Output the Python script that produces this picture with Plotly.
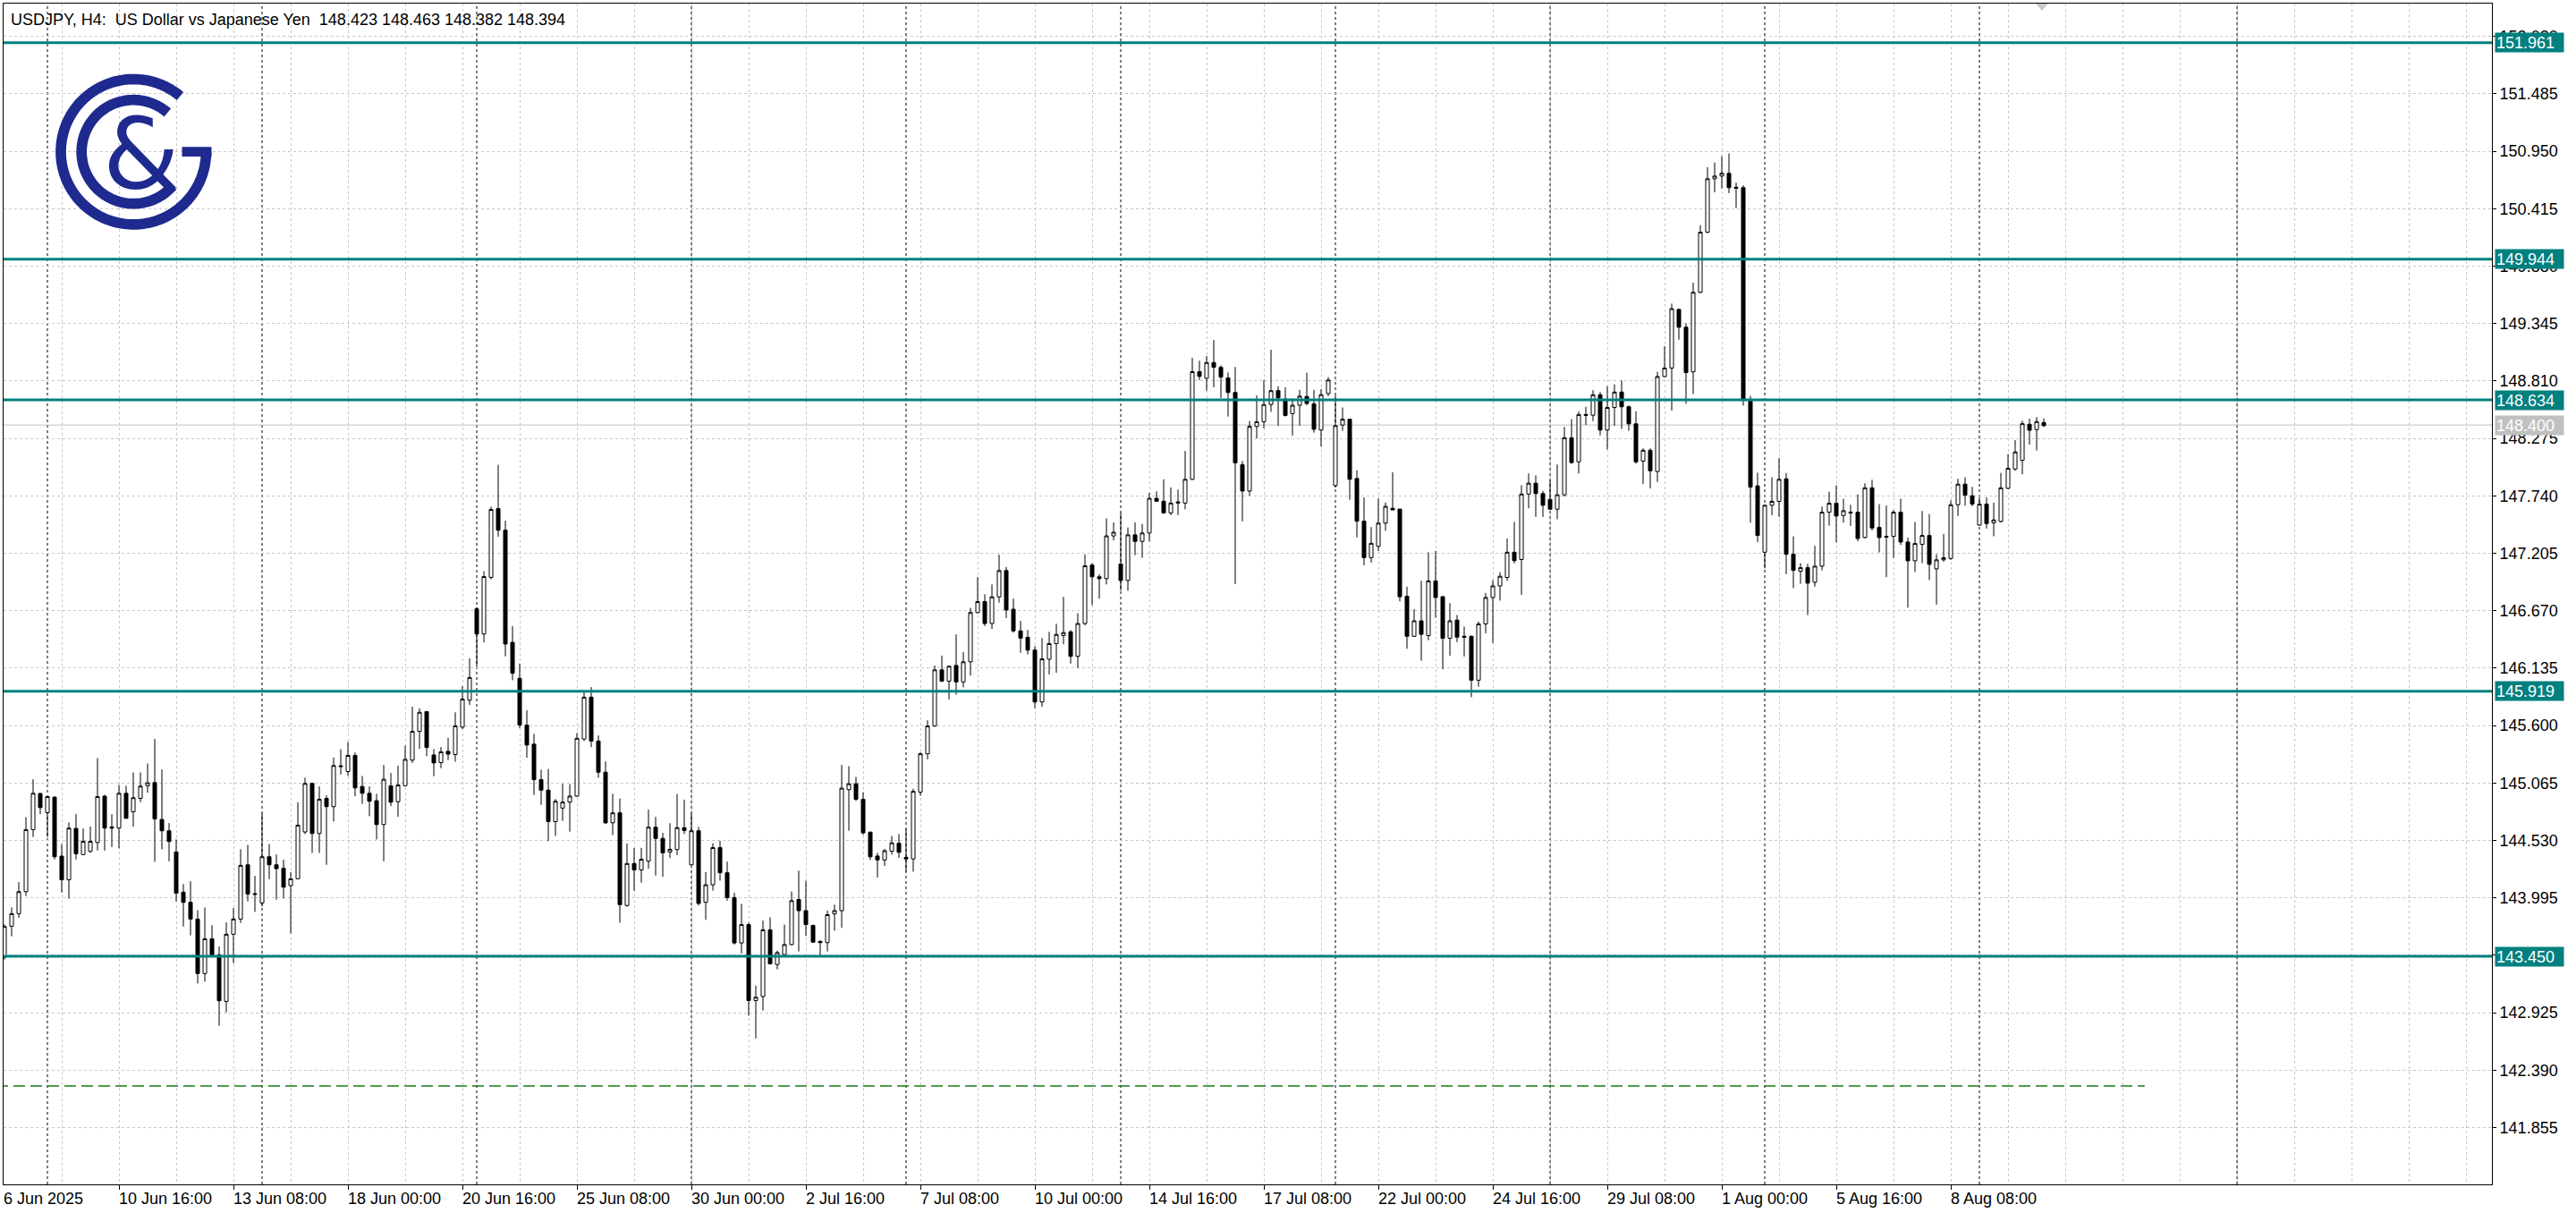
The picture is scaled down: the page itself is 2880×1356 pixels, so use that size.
import math
import plotly.graph_objects as go

# ---------------- data ----------------
candle_open = [
143.442,143.731,143.848,144.053,144.631,144.967,144.789,144.933,144.384,144.164,
144.642,144.398,144.428,144.511,144.942,144.656,144.645,144.969,144.797,144.922,
145.039,145.069,144.725,144.620,144.423,144.048,143.953,143.798,143.290,143.614,
143.465,143.031,143.656,143.798,144.303,144.034,143.948,144.378,144.303,144.270,
144.109,144.173,144.609,145.061,144.595,144.922,144.845,145.225,145.172,145.322,
145.033,144.969,144.900,144.678,145.039,144.891,145.040,145.278,145.546,145.731,
145.326,145.255,145.360,145.330,145.586,145.836,146.687,146.453,146.981,147.621,
147.420,146.375,146.040,145.605,145.427,145.096,144.999,144.705,144.832,144.887,
144.943,145.475,145.865,145.456,145.166,144.694,144.787,143.924,144.315,144.255,
144.337,144.653,144.549,144.422,144.445,144.649,144.303,144.620,143.954,144.117,
144.463,144.229,143.998,143.575,143.746,143.039,143.076,143.697,143.374,143.467,
143.560,143.980,143.876,143.738,143.590,143.578,143.846,143.876,145.003,145.058,
144.913,144.608,144.385,144.348,144.430,144.504,144.372,144.358,144.980,145.337,
145.596,146.119,146.014,146.160,146.007,146.194,146.653,146.755,146.551,146.799,
147.044,146.684,146.483,146.422,146.303,145.820,146.218,146.364,146.439,146.473,
146.245,146.551,147.095,146.986,146.969,147.367,147.105,146.952,147.377,147.316,
147.394,147.717,147.690,147.581,147.673,147.673,147.894,148.897,148.836,148.982,
148.938,148.839,148.703,148.030,147.785,148.387,148.431,148.591,148.720,148.642,
148.506,148.584,148.666,148.598,148.353,148.693,147.836,148.400,148.454,147.902,
147.504,147.165,147.270,147.486,147.624,147.617,146.804,146.432,146.576,146.439,
146.948,146.800,146.413,146.583,146.432,146.432,146.023,146.547,146.793,146.901,
146.980,147.215,147.147,147.757,147.858,147.761,147.707,147.616,147.750,148.281,
148.057,148.498,148.491,148.682,148.353,148.563,148.707,148.570,148.411,148.064,
148.165,147.967,148.852,148.931,149.477,149.311,148.895,149.636,150.196,150.694,
150.719,150.745,150.615,150.611,148.624,147.833,147.215,147.652,147.689,147.899,
147.196,147.038,147.071,146.935,147.085,147.588,147.671,147.557,147.588,147.588,
147.352,147.815,147.446,147.363,147.363,147.588,147.310,147.135,147.288,147.371,
147.060,147.144,147.157,147.657,147.849,147.741,147.468,147.663,147.488,147.502,
147.810,147.990,148.071,148.407,148.357,148.423]

candle_high = [
143.748,143.906,144.142,144.747,145.100,144.975,144.942,144.942,144.497,144.697,
144.775,144.642,144.659,145.297,144.956,144.775,145.047,145.039,145.164,145.164,
145.247,145.475,145.192,144.692,144.539,144.123,144.150,143.881,143.906,143.740,
143.542,143.767,143.901,144.448,144.489,144.200,144.781,144.497,144.400,144.350,
144.234,144.886,145.114,145.067,145.033,144.950,145.303,145.380,145.447,145.350,
145.131,145.033,144.964,145.233,145.158,145.226,145.412,145.776,145.761,145.731,
145.382,145.400,145.486,145.724,145.966,146.226,146.702,147.037,147.639,148.030,
147.509,146.527,146.178,145.743,145.523,145.189,145.196,144.917,145.058,145.055,
145.531,145.921,145.958,145.508,145.267,144.965,144.921,144.501,144.460,144.460,
144.817,144.750,144.601,144.690,144.962,144.910,144.779,144.657,144.236,144.504,
144.526,144.333,144.043,143.939,143.764,143.177,143.783,143.813,143.504,143.746,
144.054,144.248,144.155,143.746,143.597,143.876,143.932,145.233,145.222,145.122,
144.980,144.608,144.415,144.452,144.571,144.589,144.637,145.011,145.351,145.650,
146.160,146.252,146.160,146.449,146.286,146.697,146.983,146.823,146.915,147.194,
147.078,146.782,146.575,146.490,146.340,146.415,146.473,146.548,146.799,146.490,
146.646,147.194,147.112,147.010,147.530,147.493,147.581,147.445,147.493,147.479,
147.768,147.782,147.894,147.819,147.799,148.159,149.026,148.999,149.043,149.193,
148.955,148.890,148.941,148.064,148.438,148.676,148.819,149.101,148.761,148.751,
148.649,148.727,148.887,148.727,148.734,148.846,148.676,148.563,148.454,147.978,
147.725,147.450,147.714,147.678,147.960,147.617,146.894,146.685,146.948,147.215,
147.226,146.811,146.739,146.630,146.522,146.439,146.569,146.836,146.955,147.028,
147.342,147.497,147.840,147.949,147.931,147.786,147.884,148.032,148.382,148.454,
148.527,148.570,148.725,148.707,148.761,148.779,148.816,148.581,148.527,148.183,
148.183,148.895,149.134,149.531,149.484,149.347,149.726,150.261,150.802,150.846,
150.904,150.929,150.658,150.633,148.671,147.956,147.660,147.913,148.093,147.954,
147.363,147.113,147.107,147.274,147.641,147.779,147.838,147.713,147.657,147.754,
147.857,147.890,147.663,147.649,147.607,147.713,147.352,147.496,147.599,147.571,
147.196,147.385,147.699,147.899,147.913,147.824,147.724,147.727,147.677,147.954,
148.129,148.260,148.440,148.460,148.474,148.463]

candle_low = [
143.420,143.637,143.809,144.012,144.561,144.775,144.561,144.353,144.045,143.989,
144.353,144.395,144.414,144.436,144.436,144.470,144.456,144.733,144.659,144.886,
144.975,144.331,144.448,144.336,143.962,143.728,143.645,143.198,143.215,143.442,
142.804,142.929,143.387,143.762,143.962,143.864,143.914,144.170,143.978,143.989,
143.665,144.170,144.589,144.414,144.414,144.303,144.706,145.144,145.131,144.942,
144.870,144.756,144.539,144.336,144.850,144.750,145.032,145.252,145.382,145.315,
145.129,145.203,145.278,145.263,145.568,145.791,146.152,146.375,146.962,147.360,
146.245,146.022,145.575,145.300,144.954,144.861,144.523,144.571,144.712,144.612,
144.936,145.456,145.400,145.114,144.683,144.579,143.764,143.913,144.062,144.136,
144.266,144.203,144.192,144.367,144.393,144.590,144.303,143.924,143.790,144.062,
144.155,143.969,143.560,143.478,142.898,142.686,142.946,143.374,143.329,143.456,
143.552,143.496,143.641,143.582,143.456,143.496,143.690,143.716,144.620,144.898,
144.582,144.348,144.184,144.292,144.396,144.368,144.239,144.239,144.946,145.286,
145.589,146.007,145.844,145.888,145.956,146.065,146.646,146.527,146.500,146.745,
146.602,146.466,146.279,146.262,145.762,145.776,146.075,146.092,146.357,146.177,
146.136,146.534,146.721,146.782,146.915,147.326,146.857,146.857,147.187,147.163,
147.316,147.683,147.574,147.561,147.561,147.615,147.887,148.819,148.720,148.751,
148.652,148.479,146.918,147.503,147.741,148.275,148.370,148.523,148.394,148.479,
148.302,148.394,148.584,148.329,148.200,148.669,147.816,148.346,147.703,147.353,
147.093,147.118,147.226,147.414,147.609,146.757,146.316,146.425,146.204,146.396,
146.605,146.124,146.251,146.377,146.244,145.864,145.962,146.460,146.370,146.764,
146.948,147.111,146.818,147.624,147.544,147.544,147.616,147.522,147.732,148.039,
147.949,148.400,148.436,148.303,148.173,148.393,148.364,148.346,148.039,147.851,
147.811,147.869,148.845,148.534,149.195,148.599,148.689,149.628,150.188,150.568,
150.604,150.560,150.423,148.581,147.490,147.309,147.064,147.559,147.544,147.010,
146.880,146.921,146.630,146.894,147.046,147.463,147.307,147.491,147.460,147.316,
147.343,147.418,147.213,146.983,147.163,147.282,146.699,147.030,147.113,146.955,
146.727,147.127,147.144,147.552,147.649,147.643,147.460,147.435,147.363,147.491,
147.802,147.974,147.940,148.218,148.163,148.382]

candle_close = [
143.728,143.848,144.053,144.631,144.969,144.836,144.939,144.378,144.164,144.645,
144.406,144.522,144.522,144.939,144.645,144.645,144.969,144.736,144.928,145.036,
145.067,144.731,144.620,144.520,144.039,143.953,143.798,143.290,143.614,143.465,
143.037,143.656,143.798,144.298,144.031,144.028,144.378,144.303,144.267,144.095,
144.173,144.672,145.061,144.595,144.914,144.845,145.228,145.219,145.322,145.019,
144.969,144.895,144.678,145.100,144.886,145.047,145.285,145.546,145.724,145.397,
145.252,145.356,145.334,145.598,145.847,146.048,146.453,146.988,147.613,147.420,
146.360,146.088,145.605,145.419,145.096,144.999,144.705,144.895,144.887,144.943,
145.482,145.865,145.456,145.166,144.694,144.787,143.932,144.315,144.255,144.355,
144.653,144.549,144.415,144.448,144.649,144.623,144.620,143.943,144.117,144.463,
144.229,143.998,143.575,143.746,143.039,143.069,143.697,143.381,143.485,143.560,
143.969,143.876,143.746,143.582,143.578,143.839,143.876,145.017,145.058,144.913,
144.601,144.378,144.348,144.434,144.508,144.419,144.358,144.987,145.337,145.596,
146.119,146.014,146.153,146.007,146.194,146.653,146.755,146.551,146.799,147.044,
146.677,146.483,146.415,146.303,145.820,146.221,146.364,146.449,146.466,146.245,
146.551,147.088,146.986,146.969,147.367,147.401,146.952,147.377,147.316,147.394,
147.717,147.690,147.581,147.673,147.683,147.894,148.897,148.853,148.982,148.938,
148.846,148.703,148.047,147.785,148.387,148.431,148.591,148.720,148.652,148.489,
148.584,148.669,148.601,148.360,148.683,148.819,148.394,148.454,147.894,147.504,
147.165,147.298,147.486,147.642,147.609,146.800,146.432,146.576,146.450,146.948,
146.793,146.413,146.576,146.424,146.424,146.023,146.547,146.793,146.901,146.991,
147.215,147.136,147.757,147.858,147.761,147.652,147.616,147.750,148.281,148.050,
148.498,148.491,148.682,148.353,148.563,148.707,148.570,148.411,148.057,148.165,
147.974,148.852,148.931,149.484,149.311,148.888,149.636,150.196,150.694,150.719,
150.745,150.611,150.607,148.642,147.822,147.371,147.652,147.689,147.894,147.196,
147.046,147.071,146.927,147.085,147.588,147.671,147.552,147.602,147.580,147.343,
147.815,147.441,147.352,147.355,147.588,147.310,147.135,147.296,147.371,147.102,
147.144,147.163,147.657,147.849,147.746,147.663,147.663,147.482,147.516,147.815,
147.996,148.149,148.412,148.351,148.432,148.394]

bar_index = list(range(len(candle_open)))

level_prices = [151.961, 149.944, 148.634, 145.919, 143.450]
level_labels = ["151.961", "149.944", "148.634", "145.919", "143.450"]
bid_price = 148.400
bid_label = "148.400"
dashed_level = 142.243
dashed_level_end_bar = 299.1

price_tick_labels = ["141.855", "142.390", "142.925", "143.460", "143.995", "144.530",
                     "145.065", "145.600", "146.135", "146.670", "147.205", "147.740",
                     "148.275", "148.810", "149.345", "149.880", "150.415", "150.950",
                     "151.485", "152.020"]
price_tick_values = [float(s) for s in price_tick_labels]

first_time_label = "6 Jun 2025"
time_labels = ["10 Jun 16:00", "13 Jun 08:00", "18 Jun 00:00", "20 Jun 16:00",
               "25 Jun 08:00", "30 Jun 00:00", "2 Jul 16:00", "7 Jul 08:00",
               "10 Jul 00:00", "14 Jul 16:00", "17 Jul 08:00", "22 Jul 00:00",
               "24 Jul 16:00", "29 Jul 08:00", "1 Aug 00:00", "5 Aug 16:00",
               "8 Aug 08:00"]
time_label_bars = [16, 32, 48, 64, 80, 96, 112, 128, 144, 160, 176, 192, 208, 224, 240, 256, 272]
week_separator_bars = [6, 36, 66, 96, 126, 156, 186, 216, 246, 276, 312]

title_text = ("USDJPY, H4:\u00a0\u00a0US Dollar vs Japanese Yen\u00a0\u00a0"
              "148.423 148.463 148.382 148.394")

# ---------------- layout constants ----------------
W, H = 2880, 1356
ML, MR, MT, MB = 4, 94, 4, 32
PW, PH = W - ML - MR, H - MT - MB
X_RANGE = [-0.125, 347.625]
Y_RANGE = [141.326, 152.326]

FONT = "Liberation Sans, Arial, sans-serif"
TEAL = "#008080"
NAVY = "#1e2a8e"
GRID = "#c8c8c8"


def to_paper(X, Y):
    return (X - ML) / PW, (H - MB - Y) / PH


def arc_path(cx, cy, r, a0, a1, step=2.0):
    pts = []
    n = int(abs(a1 - a0) / step) + 1
    for k in range(n + 1):
        a = math.radians(a0 + (a1 - a0) * k / n)
        pts.append(to_paper(cx + r * math.cos(a), cy - r * math.sin(a)))
    return "M " + " L ".join(f"{x:.6f},{y:.6f}" for x, y in pts)


fig = go.Figure()

fig.add_trace(go.Candlestick(
    x=bar_index, open=candle_open, high=candle_high, low=candle_low, close=candle_close,
    increasing=dict(fillcolor="white", line=dict(color="black", width=1)),
    decreasing=dict(fillcolor="black", line=dict(color="black", width=1)),
    whiskerwidth=0, hoverinfo="skip", showlegend=False,
))

# dashed horizontal trend line
fig.add_trace(go.Scatter(
    x=[X_RANGE[0] - 1, dashed_level_end_bar], y=[dashed_level, dashed_level],
    mode="lines", line=dict(color="#1a7a1a", width=1.5, dash="13px,6px"),
    hoverinfo="skip", showlegend=False, cliponaxis=True,
))

shapes = []
# weekly separators
for b in week_separator_bars:
    shapes.append(dict(type="line", xref="x", yref="paper", x0=b, x1=b, y0=0, y1=1,
                       line=dict(color="black", width=1, dash="3px,3px"), layer="below"))
# bid line
shapes.append(dict(type="line", xref="paper", yref="y", x0=0, x1=1, y0=bid_price, y1=bid_price,
                   line=dict(color="#c0c0c0", width=1), layer="below"))
# levels
for p in level_prices:
    shapes.append(dict(type="line", xref="paper", yref="y", x0=0, x1=1, y0=p, y1=p,
                       line=dict(color=TEAL, width=3), layer="above"))

# logo
LCX, LCY = 149.2, 169.7
shapes.append(dict(type="path", xref="paper", yref="paper", layer="above",
                   path=arc_path(LCX, LCY, 81.2, 50, 360),
                   line=dict(color=NAVY, width=11.7)))
bx0, by0 = to_paper(203.5, LCY)
bx1, by1 = to_paper(236.5, LCY)
shapes.append(dict(type="line", xref="paper", yref="paper", x0=bx0, y0=by0, x1=bx1, y1=by1,
                   line=dict(color=NAVY, width=10.8), layer="above"))
shapes.append(dict(type="path", xref="paper", yref="paper", layer="above",
                   path=arc_path(LCX, LCY, 58.0, 49, 319),
                   line=dict(color=NAVY, width=11.7)))

# chart shift marker
t1 = to_paper(2276, 4)
t2 = to_paper(2290, 4)
t3 = to_paper(2283, 12)
shapes.append(dict(type="path", xref="paper", yref="paper", layer="above",
                   path=f"M {t1[0]},{t1[1]} L {t2[0]},{t2[1]} L {t3[0]},{t3[1]} Z",
                   fillcolor="#c8c8c8", line=dict(width=0)))

annotations = []
# title
annotations.append(dict(text=title_text, xref="paper", yref="paper", x=0, y=1,
                        xanchor="left", yanchor="top", xshift=6, yshift=-6, showarrow=False,
                        font=dict(family=FONT, size=18, color="black")))
# ampersand of logo
ax, ay = to_paper(158, 172)
annotations.append(dict(text="&", xref="paper", yref="paper", x=ax, y=ay,
                        xanchor="center", yanchor="middle", showarrow=False,
                        font=dict(family="DejaVu Sans, sans-serif", size=110, color=NAVY)))
# time labels
annotations.append(dict(text=first_time_label, xref="x", yref="paper", x=X_RANGE[0], y=0,
                        xanchor="left", yanchor="top", yshift=-4, xshift=-2, showarrow=False,
                        font=dict(family=FONT, size=18, color="black")))
for b, t in zip(time_label_bars, time_labels):
    annotations.append(dict(text=t, xref="x", yref="paper", x=b, y=0,
                            xanchor="left", yanchor="top", yshift=-4, xshift=-2, showarrow=False,
                            font=dict(family=FONT, size=18, color="black")))
# level boxes
for p, s in zip(level_prices, level_labels):
    annotations.append(dict(text=s, xref="paper", yref="y", x=1, y=p,
                            xanchor="left", yanchor="middle", xshift=3, showarrow=False,
                            bgcolor=TEAL, width=74, height=19, align="left", borderpad=1,
                            font=dict(family=FONT, size=18, color="white")))
annotations.append(dict(text=bid_label, xref="paper", yref="y", x=1, y=bid_price,
                        xanchor="left", yanchor="middle", xshift=3, showarrow=False,
                        bgcolor="#c0c0c0", width=74, height=19, align="left", borderpad=1,
                        font=dict(family=FONT, size=18, color="white")))

fig.update_layout(
    width=W, height=H, margin=dict(l=ML, r=MR, t=MT, b=MB, pad=0),
    paper_bgcolor="white", plot_bgcolor="white",
    boxgap=0.5, boxgroupgap=0,
    shapes=shapes, annotations=annotations, showlegend=False,
    font=dict(family=FONT, size=18, color="black"),
)
fig.update_xaxes(
    range=X_RANGE, rangeslider=dict(visible=False), zeroline=False,
    tickmode="array", tickvals=time_label_bars, showticklabels=False,
    ticks="outside", ticklen=5, tickcolor="black", tickwidth=1,
    showgrid=True, gridcolor=GRID, griddash="3px,3px", gridwidth=1,
    minor=dict(tickmode="linear", tick0=0, dtick=8, showgrid=True, gridcolor=GRID,
               griddash="3px,3px", gridwidth=1, ticks=""),
    showline=True, linecolor="black", linewidth=1, mirror=True, fixedrange=True,
)
fig.update_yaxes(
    range=Y_RANGE, side="right", zeroline=False,
    tickmode="array", tickvals=price_tick_values, ticktext=price_tick_labels,
    ticks="outside", ticklen=4, tickcolor="black", tickwidth=1,
    tickfont=dict(family=FONT, size=18, color="black"),
    showgrid=True, gridcolor=GRID, griddash="3px,3px", gridwidth=1,
    showline=True, linecolor="black", linewidth=1, mirror=True, fixedrange=True,
)

fig.write_html("out.html", config={"displayModeBar": False},
               post_script="document.body.style.margin='0px';")
